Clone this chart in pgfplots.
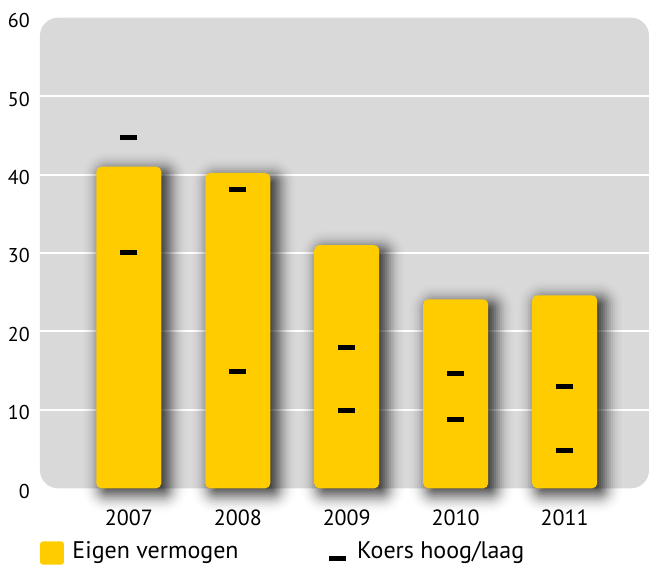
\documentclass[border=0pt]{standalone}
\usepackage{fontspec}
\setmainfont{PT Sans}
\usepackage{pgfplots}
\pgfplotsset{compat=1.18}
\usepackage{pgfplotstable}
\definecolor{barY}{HTML}{FFCC00}
\definecolor{bgG}{HTML}{D9D9D9}

\pgfplotstableread{
x eigen hoog laag
0 41.0 44.75 30.0
1 40.2 38.1 14.9
2 31.0 18.0 9.9
3 24.1 14.6 8.8
4 24.6 13.0 4.8
}\datatable

% one layer of the soft drop shadow: grown or shrunk on every side
\pgfplotsset{
  shl/.style n args={5}{ybar, bar shift=0pt, forget plot, mark=none,
    bar width=#1pt, xshift=6pt, yshift=#2pt, fill=black, fill opacity=#5,
    draw=none, rounded corners=#4pt},
}

\begin{document}
\begin{tikzpicture}
\begin{axis}[
  scale only axis, width=609pt, height=470.6pt,
  xmin=-0.815, xmax=4.774, ymin=0, ymax=60,
  axis line style={draw=none},
  major tick length=0pt,
  ytick={0,10,...,60},
  xtick={0,1,2,3,4}, xticklabels={2007,2008,2009,2010,2011},
  yticklabel style={font=\fontsize{20}{20}\selectfont, inner sep=0pt, anchor=east, xshift=-10pt, yshift=-3pt},
  xticklabel style={font=\fontsize{22}{22}\selectfont, inner sep=0pt, anchor=north, yshift=-21pt},
  axis background/.style={fill=bgG, rounded corners=18pt},
  extra y ticks={10,20,30,40,50}, extra y tick labels={},
  extra y tick style={grid=major, major grid style={white, line width=2pt}},
  clip=false,
  /pgf/number format/assume math mode=true,
  legend columns=2,
  legend cell align=left,
  legend style={draw=none, fill=none, at={(0,0)}, anchor=north west, yshift=-53.1pt,
    inner sep=0pt, outer sep=0pt, font=\fontsize{24}{24}\selectfont,
    nodes={inner sep=0pt},
    /tikz/every odd column/.append style={column sep=8.5pt},
    /tikz/every even column/.append style={column sep=88pt}},
]
% soft drop shadow (layers of the same bars, grown or shrunk)
\addplot[shl={33}{11}{-4.08}{1.5}{0.05}] table[x=x, y expr=\thisrow{eigen}-4.08]{\datatable};
\addplot[shl={37}{9}{-3.57}{1.5}{0.067}] table[x=x, y expr=\thisrow{eigen}-3.57]{\datatable};
\addplot[shl={41}{7}{-3.06}{1.5}{0.085}] table[x=x, y expr=\thisrow{eigen}-3.06]{\datatable};
\addplot[shl={45}{5}{-2.55}{1.5}{0.107}] table[x=x, y expr=\thisrow{eigen}-2.55]{\datatable};
\addplot[shl={49}{3}{-2.04}{1.5}{0.122}] table[x=x, y expr=\thisrow{eigen}-2.04]{\datatable};
\addplot[shl={53}{1}{-1.53}{1.5}{0.133}] table[x=x, y expr=\thisrow{eigen}-1.53]{\datatable};
\addplot[shl={57}{-1}{-1.02}{1.5}{0.138}] table[x=x, y expr=\thisrow{eigen}-1.02]{\datatable};
\addplot[shl={61}{-3}{-0.51}{3}{0.138}] table[x=x, y expr=\thisrow{eigen}-0.51]{\datatable};
\addplot[shl={65}{-5}{0}{5}{0.126}] table[x=x, y=eigen]{\datatable};
\addplot[shl={69}{-7}{0.51}{7}{0.117}] table[x=x, y expr=\thisrow{eigen}+0.51]{\datatable};
\addplot[shl={73}{-9}{1.02}{9}{0.101}] table[x=x, y expr=\thisrow{eigen}+1.02]{\datatable};
\addplot[shl={77}{-11}{1.53}{11}{0.083}] table[x=x, y expr=\thisrow{eigen}+1.53]{\datatable};
\addplot[shl={81}{-13}{2.04}{13}{0.069}] table[x=x, y expr=\thisrow{eigen}+2.04]{\datatable};
\addplot[shl={85}{-15}{2.55}{15}{0.053}] table[x=x, y expr=\thisrow{eigen}+2.55]{\datatable};
\addplot[shl={89}{-17}{3.06}{17}{0.039}] table[x=x, y expr=\thisrow{eigen}+3.06]{\datatable};
\addplot[shl={93}{-19}{3.57}{19}{0.028}] table[x=x, y expr=\thisrow{eigen}+3.57]{\datatable};
\addplot[shl={97}{-21}{4.08}{21}{0.019}] table[x=x, y expr=\thisrow{eigen}+4.08]{\datatable};
\addplot[shl={101}{-23}{4.59}{23}{0.0125}] table[x=x, y expr=\thisrow{eigen}+4.59]{\datatable};
\addplot[shl={105}{-25}{5.10}{25}{0.0077}] table[x=x, y expr=\thisrow{eigen}+5.10]{\datatable};
% bars
\addplot[ybar, bar width=65pt, bar shift=0pt, fill=barY, draw=none, rounded corners=5pt,
  legend image code/.code={\fill[barY, rounded corners=3pt] (0pt,-13.5pt) rectangle (24pt,9.8pt);}]
  table[x=x,y=eigen]{\datatable};
\addlegendentry{Eigen vermogen}
% koers hoog/laag
\addplot[only marks, mark=-, mark size=8.5pt, mark options={line width=5pt, black},
  legend image code/.code={\draw[black, line width=5pt] (0pt,-7.5pt) -- (17pt,-7.5pt);}]
  table[x=x,y=hoog]{\datatable};
\addlegendentry{Koers hoog/laag}
\addplot[only marks, mark=-, mark size=8.5pt, mark options={line width=5pt, black}, forget plot]
  table[x=x,y=laag]{\datatable};
\end{axis}
\pgfresetboundingbox
\path[use as bounding box] ([xshift=-40pt,yshift=-77.7pt]current axis.south west) rectangle ([yshift=17.7pt]current axis.north east);
\end{tikzpicture}
\end{document}
